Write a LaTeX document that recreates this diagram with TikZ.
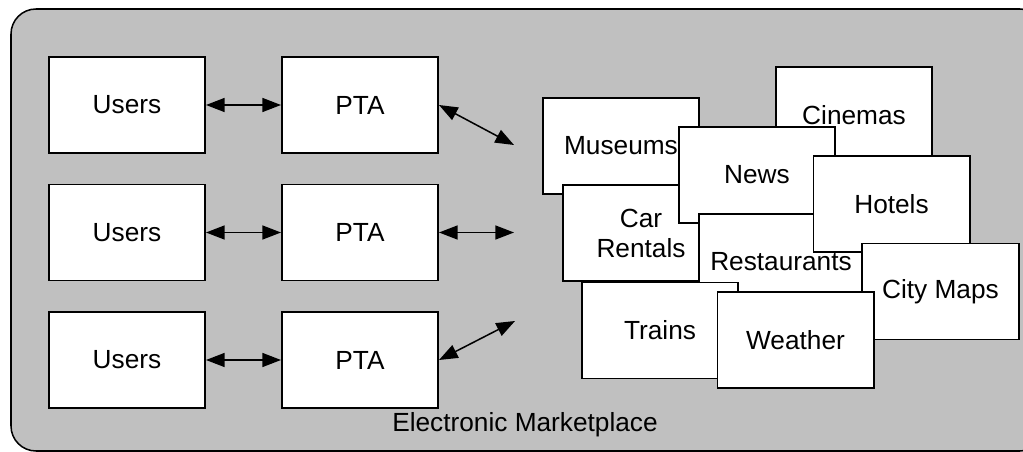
\documentclass[tikz,border=0pt]{standalone}
\usepackage{fontspec}
\setmainfont{Liberation Sans}
\usepackage{tikz}
\usetikzlibrary{arrows.meta}

\definecolor{mktgray}{RGB}{192,192,192}

\begin{document}
\begin{tikzpicture}[x=0.03cm,y=-0.03cm]
\tikzstyle{every node}+=[inner sep=0pt, font=\fontsize{22.4pt}{25.6pt}\selectfont]
\tikzstyle{box}=[draw=black, line width=1.7pt, fill=white, minimum width=4.68cm, minimum height=2.88cm, align=center]
\tikzstyle{link}=[line width=1.3pt, {Triangle[length=0.56cm,width=0.42cm]}-{Triangle[length=0.56cm,width=0.42cm]}]
\clip (0,0) rectangle (1023,452);
\draw [line width=1.3pt, fill=mktgray, rounded corners=0.75cm] (11,9) rectangle (1045,451);
\node (market) at (525,425) {Electronic Marketplace};
% left side: users and their agents
\node [box] (u1) at (127,105) {Users};
\node [box] (p1) at (360,105) {PTA};
\node [box] (u2) at (127,232.5) {Users};
\node [box] (p2) at (360,232.5) {PTA};
\node [box] (u3) at (127,360) {Users};
\node [box] (p3) at (360,360) {PTA};
\draw [link] (u1) -- (p1);
\draw [link] (u2) -- (p2);
\draw [link] (u3) -- (p3);
\coordinate (e1) at (514,145);
\coordinate (e2) at (514,232.5);
\coordinate (e3) at (515,321);
\draw [link] (p1.east) -- (e1);
\draw [link] (p2.east) -- (e2);
\draw [link] (p3.east) -- (e3);
% right side: the services, back to front
\node [box] (museums) at (621,146) {Museums};
\node [box] (cinemas) at (854,115) {Cinemas};
\node [box] (rentals) at (641,233) {Car\\Rentals};
\node [box] (news) at (757,175) {News};
\node [box, minimum width=4.92cm] (restaurants) at (781,262) {Restaurants};
\node [box] (hotels) at (891.5,204) {Hotels};
\node [box, minimum width=4.71cm] (maps) at (940.5,291.5) {City Maps};
\node [box] (trains) at (660,330.5) {Trains};
\node [box] (weather) at (795.5,340) {Weather};
\end{tikzpicture}
\end{document}
